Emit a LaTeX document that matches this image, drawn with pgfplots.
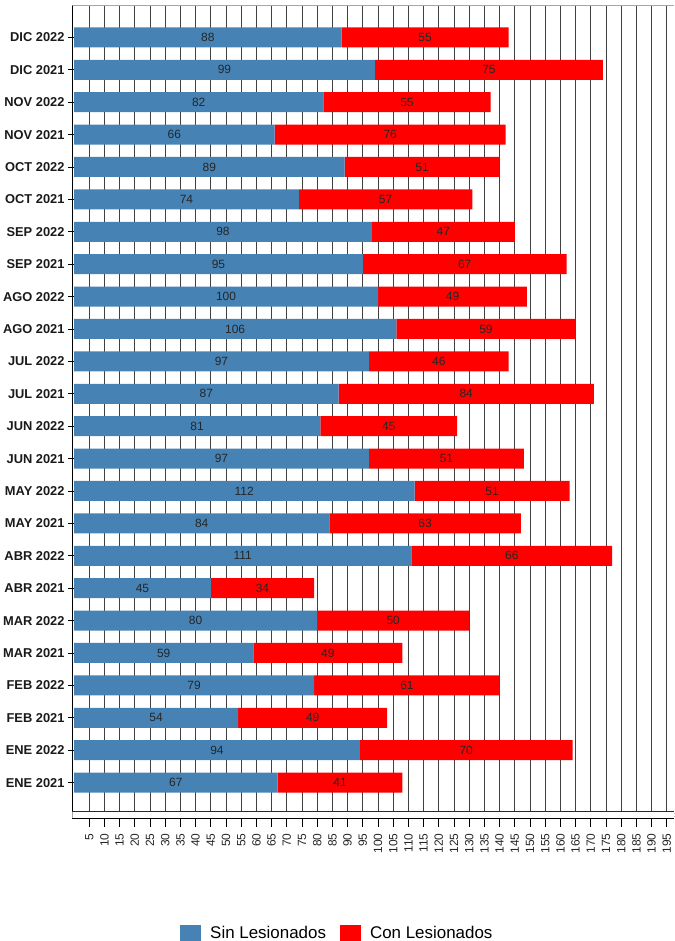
\documentclass[border=0pt]{standalone}
\usepackage{pgfplots}
\pgfplotsset{compat=1.18}
\usepackage{fontspec}
\setmainfont{Liberation Sans}
\usetikzlibrary{patterns}
\definecolor{sinc}{HTML}{4682B4}
\definecolor{conc}{HTML}{FF0000}
\begin{document}
\begin{tikzpicture}
\begin{axis}[
  name=ax,
  xbar stacked,
  x=3.04bp, y=32.4bp,
  xmin=-0.5, xmax=197.5,
  ymin=-1.09, ymax=24,
  bar width=20bp,
  axis x line*=bottom, axis y line*=left,
  x axis line style={black, line width=1.2bp, -},
  y axis line style={black, line width=1.5bp, -},
  xtick align=outside,
  ytick align=center,
  major tick length=9bp,
  tick style={black, line width=0.9bp},
  xmajorgrids, grid style={black!75, line width=0.8bp},
  ytick={0,...,23},
  yticklabels={ENE 2021,ENE 2022,FEB 2021,FEB 2022,MAR 2021,MAR 2022,ABR 2021,ABR 2022,MAY 2021,MAY 2022,JUN 2021,JUN 2022,JUL 2021,JUL 2022,AGO 2021,AGO 2022,SEP 2021,SEP 2022,OCT 2021,OCT 2022,NOV 2021,NOV 2022,DIC 2021,DIC 2022},
  yticklabel style={font=\bfseries\fontsize{12.9}{14}\selectfont, text=black!90},
  xtick={5,10,...,195},
  xticklabel style={rotate=90, anchor=east, font=\fontsize{12}{13}\selectfont, text=black!85, xshift=-3bp},
  /pgf/number format/assume math mode=true,
  nodes near coords,
  point meta=explicit symbolic,
  every node near coord/.append style={anchor=center, font=\fontsize{12}{14}\selectfont, text=black!85},
  legend style={at={(0.44,-0.1415)}, anchor=center, draw=none, fill=none, legend columns=2, font=\fontsize{17}{20}\selectfont, /tikz/every odd column/.append style={column sep=7bp}, /tikz/every even column/.append style={column sep=12bp}},
  legend image code/.code={\fill[#1] (0bp,-8bp) rectangle (21bp,8bp);},
]
\addplot[fill=sinc, draw=none] coordinates {
(67,0)[67] (94,1)[94] (54,2)[54] (79,3)[79] (59,4)[59] (80,5)[80]
(45,6)[45] (111,7)[111] (84,8)[84] (112,9)[112] (97,10)[97] (81,11)[81]
(87,12)[87] (97,13)[97] (106,14)[106] (100,15)[100] (95,16)[95] (98,17)[98]
(74,18)[74] (89,19)[89] (66,20)[66] (82,21)[82] (99,22)[99] (88,23)[88]};
\addlegendentry{Sin Lesionados}
\addplot[fill=conc, draw=none] coordinates {
(41,0)[41] (70,1)[70] (49,2)[49] (61,3)[61] (49,4)[49] (50,5)[50]
(34,6)[34] (66,7)[66] (63,8)[63] (51,9)[51] (51,10)[51] (45,11)[45]
(84,12)[84] (46,13)[46] (59,14)[59] (49,15)[49] (67,16)[67] (47,17)[47]
(57,18)[57] (51,19)[51] (76,20)[76] (55,21)[55] (75,22)[75] (55,23)[55]};
\addlegendentry{Con Lesionados}
\coordinate (tl) at (rel axis cs:0,1);
\draw[black!35, line width=0.8bp] (rel axis cs:0,1) -- (rel axis cs:1,1);
\fill[white] (axis cs:-0.5,-1.09) rectangle (axis cs:197.5,-0.905);
\fill[pattern=north east lines, pattern color=black!80] (axis cs:-0.5,-1.09) rectangle (axis cs:197.5,-0.905);
\draw[black!85, line width=0.9bp] (axis cs:-0.5,-0.905) -- (axis cs:197.5,-0.905);
\end{axis}
\pgfresetboundingbox
\path[use as bounding box] ([xshift=-72.5bp,yshift=5bp]tl) rectangle ([xshift=602.5bp,yshift=-936bp]tl);
\end{tikzpicture}
\end{document}
